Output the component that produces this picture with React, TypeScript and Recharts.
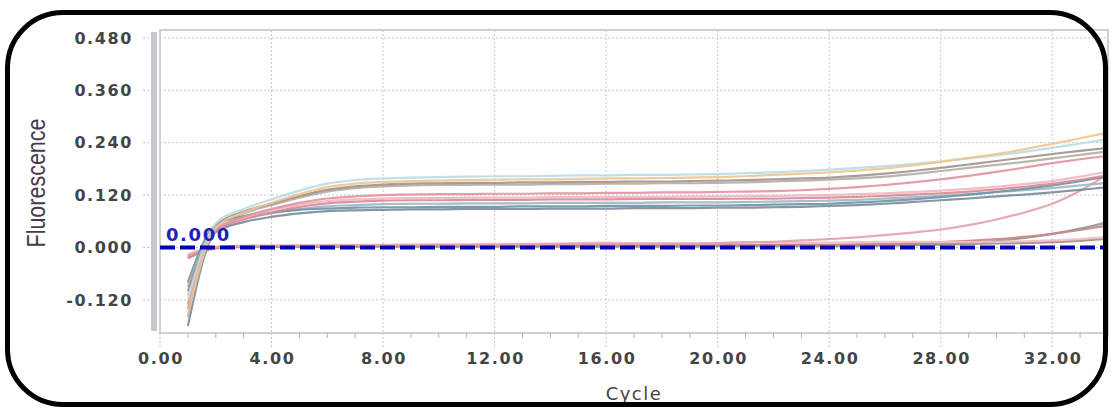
import {
  CartesianGrid,
  Line,
  LineChart,
  ReferenceArea,
  ReferenceLine,
  XAxis,
  YAxis,
} from 'recharts'

const CYCLES = [
  1, 2, 3, 4, 5, 6, 7, 8, 9, 10, 11, 12, 13, 14, 15, 16, 17, 18, 19, 20, 21, 22, 23, 24, 25, 26, 27, 28,
  29, 30, 31, 32, 33, 34,
]

const TAN = [
  -0.15, 0.045, 0.08, 0.102, 0.122, 0.138, 0.146, 0.15, 0.152, 0.153, 0.154, 0.155, 0.156, 0.156, 0.157,
  0.158, 0.158, 0.159, 0.16, 0.161, 0.163, 0.166, 0.169, 0.172, 0.176, 0.181, 0.188, 0.196, 0.205, 0.214,
  0.225, 0.237, 0.25, 0.263,
]
const LIGHT_BLUE = [
  -0.12, 0.055, 0.088, 0.11, 0.13, 0.146, 0.154, 0.158, 0.16, 0.161, 0.162, 0.163, 0.163, 0.164, 0.165,
  0.165, 0.166, 0.166, 0.167, 0.168, 0.17, 0.172, 0.175, 0.178, 0.182, 0.186, 0.191, 0.197, 0.204, 0.211,
  0.219, 0.228, 0.238, 0.248,
]
const GRAY_BROWN = [
  -0.1, 0.05, 0.082, 0.1, 0.118, 0.132, 0.14, 0.144, 0.146, 0.147, 0.148, 0.148, 0.149, 0.149, 0.15, 0.15,
  0.151, 0.151, 0.152, 0.153, 0.154, 0.156, 0.158, 0.16, 0.164, 0.169, 0.175, 0.182, 0.19, 0.198, 0.206,
  0.214, 0.221, 0.228,
]
const GRAY_BROWN_2 = [
  -0.09, 0.048, 0.078, 0.097, 0.114, 0.128, 0.136, 0.14, 0.142, 0.143, 0.143, 0.144, 0.144, 0.145, 0.145,
  0.146, 0.146, 0.147, 0.147, 0.148, 0.149, 0.151, 0.153, 0.155, 0.158, 0.162, 0.168, 0.175, 0.182, 0.189,
  0.196, 0.204, 0.212, 0.22,
]
const PINK_1 = [
  -0.13, 0.04, 0.07, 0.088, 0.102, 0.112, 0.117, 0.12, 0.121, 0.122, 0.122, 0.123, 0.123, 0.124, 0.124,
  0.125, 0.125, 0.126, 0.126, 0.127, 0.128, 0.129, 0.131, 0.134, 0.138, 0.143, 0.149, 0.156, 0.164, 0.173,
  0.183, 0.193, 0.202, 0.21,
]
const PINK_2 = [
  -0.11, 0.042, 0.068, 0.085, 0.098, 0.106, 0.11, 0.112, 0.113, 0.113, 0.114, 0.114, 0.114, 0.115, 0.115,
  0.116, 0.116, 0.116, 0.117, 0.117, 0.118, 0.118, 0.119, 0.12, 0.122, 0.124, 0.127, 0.13, 0.134, 0.139,
  0.145, 0.152, 0.162, 0.174,
]
const ROSE = [
  -0.14, 0.038, 0.064, 0.08, 0.093, 0.101, 0.105, 0.107, 0.108, 0.108, 0.109, 0.109, 0.109, 0.11, 0.11,
  0.11, 0.111, 0.111, 0.111, 0.111, 0.112, 0.112, 0.113, 0.114, 0.116, 0.118, 0.121, 0.124, 0.128, 0.133,
  0.139, 0.146, 0.155, 0.165,
]
const TEAL = [
  -0.08, 0.052, 0.072, 0.08, 0.086, 0.089, 0.091, 0.092, 0.092, 0.093, 0.093, 0.093, 0.094, 0.094, 0.094,
  0.095, 0.095, 0.095, 0.096, 0.096, 0.097, 0.098, 0.099, 0.1, 0.103, 0.106, 0.11, 0.115, 0.121, 0.127,
  0.134, 0.142, 0.152, 0.163,
]
const SLATE = [
  -0.18, 0.035, 0.058, 0.07, 0.078, 0.083, 0.085, 0.086, 0.087, 0.087, 0.088, 0.088, 0.088, 0.089, 0.089,
  0.089, 0.09, 0.09, 0.09, 0.091, 0.091, 0.092, 0.093, 0.095, 0.097, 0.1, 0.104, 0.108, 0.112, 0.117,
  0.121, 0.126, 0.132, 0.138,
]
const LIGHT_SLATE = [
  -0.16, 0.04, 0.065, 0.078, 0.088, 0.094, 0.097, 0.099, 0.1, 0.1, 0.101, 0.101, 0.101, 0.102, 0.102,
  0.102, 0.102, 0.103, 0.103, 0.103, 0.104, 0.105, 0.106, 0.107, 0.109, 0.112, 0.115, 0.118, 0.122, 0.127,
  0.131, 0.136, 0.142, 0.148,
]
const LATE_PINK = [
  -0.02, 0.0, 0.002, 0.003, 0.004, 0.004, 0.005, 0.005, 0.005, 0.006, 0.006, 0.006, 0.007, 0.007, 0.008,
  0.008, 0.008, 0.009, 0.009, 0.01, 0.011, 0.013, 0.016, 0.019, 0.023, 0.028, 0.034, 0.041, 0.051, 0.064,
  0.08, 0.1, 0.13, 0.168,
]
const LATE_SALMON = [
  -0.025, -0.002, 0.001, 0.002, 0.002, 0.003, 0.003, 0.003, 0.003, 0.003, 0.004, 0.004, 0.004, 0.004,
  0.004, 0.005, 0.005, 0.005, 0.005, 0.005, 0.005, 0.006, 0.006, 0.006, 0.007, 0.008, 0.01, 0.012, 0.015,
  0.019, 0.024, 0.031, 0.04, 0.05,
]
const LATE_GRAY = [
  -0.018, 0.0, 0.002, 0.002, 0.002, 0.002, 0.002, 0.002, 0.002, 0.002, 0.002, 0.002, 0.002, 0.002, 0.002,
  0.002, 0.002, 0.002, 0.002, 0.003, 0.003, 0.003, 0.003, 0.003, 0.003, 0.004, 0.005, 0.007, 0.01, 0.015,
  0.022, 0.031, 0.043, 0.058,
]
const FLAT_BROWN = [
  -0.022, 0.0, 0.002, 0.003, 0.003, 0.003, 0.003, 0.004, 0.004, 0.004, 0.004, 0.004, 0.004, 0.005, 0.005,
  0.005, 0.005, 0.005, 0.005, 0.005, 0.005, 0.006, 0.006, 0.006, 0.006, 0.006, 0.007, 0.007, 0.008, 0.009,
  0.01, 0.012, 0.015, 0.02,
]
const FLAT_PINK = [
  -0.015, 0.002, 0.004, 0.005, 0.005, 0.006, 0.006, 0.006, 0.007, 0.007, 0.007, 0.008, 0.008, 0.009, 0.01,
  0.011, 0.01, 0.009, 0.009, 0.01, 0.012, 0.012, 0.011, 0.011, 0.012, 0.013, 0.013, 0.012, 0.012, 0.013,
  0.014, 0.016, 0.019, 0.024,
]

const SERIES = [
  { key: 'flatBrown', values: FLAT_BROWN, color: '#a58a7a' },
  { key: 'lateGray', values: LATE_GRAY, color: '#8d9898' },
  { key: 'lateSalmon', values: LATE_SALMON, color: '#cf8484' },
  { key: 'flatPink', values: FLAT_PINK, color: '#f1bcc5' },
  { key: 'latePink', values: LATE_PINK, color: '#e4a0aa' },
  { key: 'slate', values: SLATE, color: '#7a8a9a' },
  { key: 'lightSlate', values: LIGHT_SLATE, color: '#9cb6c6' },
  { key: 'teal', values: TEAL, color: '#6b95a3' },
  { key: 'rose', values: ROSE, color: '#d88a94' },
  { key: 'pink2', values: PINK_2, color: '#f0b6c0' },
  { key: 'pink1', values: PINK_1, color: '#e2909f' },
  { key: 'grayBrown2', values: GRAY_BROWN_2, color: '#b5aca4' },
  { key: 'grayBrown', values: GRAY_BROWN, color: '#9f958d' },
  { key: 'lightBlue', values: LIGHT_BLUE, color: '#b8dbe8' },
  { key: 'tan', values: TAN, color: '#f0c48c' },
]

const X_TICKS = [0, ...CYCLES]
const X_GRID = [4, 8, 12, 16, 20, 24, 28, 32]
const Y_TICKS = [-0.12, 0, 0.12, 0.24, 0.36, 0.48]
const Y_DOMAIN: [number, number] = [-0.196, 0.498]
const THRESHOLD = 0

const data = CYCLES.map((cycle, i) => {
  const row: Record<string, number> = { cycle }
  SERIES.forEach((s) => {
    row[s.key] = s.values[i]
  })
  return row
})

const tickFont = {
  fontFamily: '"DejaVu Sans", Verdana, sans-serif',
  fontSize: 16,
  fontWeight: 700,
  letterSpacing: 1.6,
}

function XTick(props: any) {
  const { x, y, payload } = props
  const v = payload.value as number
  const major = v % 4 === 0
  return (
    <g>
      {major ? (
        <line x1={x} x2={x} y1={y} y2={y + 14} stroke="#c4c4c4" strokeDasharray="2 2" />
      ) : (
        <line x1={x} x2={x} y1={y} y2={y + 5} stroke="#b4b4b4" />
      )}
      {major && v <= 32 && (
        <text x={x + 1} y={y + 31} textAnchor="middle" fill="#444" style={tickFont}>
          {v.toFixed(2)}
        </text>
      )}
    </g>
  )
}

function YTick(props: any) {
  const { x, y, payload } = props
  const v = payload.value as number
  return (
    <g>
      <line x1={x - 17} x2={x - 8} y1={y} y2={y} stroke="#c4c4c4" strokeDasharray="2 2" />
      <text x={x - 27} y={y} dy="0.36em" textAnchor="end" fill="#444" style={tickFont}>
        {v.toFixed(3)}
      </text>
    </g>
  )
}

function FluorLabel() {
  return (
    <text
      x={36}
      y={183}
      transform="rotate(-90 36 183)"
      textAnchor="middle"
      dominantBaseline="central"
      fill="#4a3848"
      textLength={129}
      lengthAdjust="spacingAndGlyphs"
      style={{ fontFamily: '"Liberation Sans", Arial, sans-serif', fontSize: 25 }}
    >
      Fluorescence
    </text>
  )
}

export default function App() {
  return (
    <div style={{ position: 'absolute', left: 0, top: 0, width: 1112, height: 408, background: '#fff' }}>
      <LineChart width={1112} height={408} data={data} margin={{ top: 30, right: 4, left: 0, bottom: 0 }}>
        <CartesianGrid
          stroke="#c8c8c8"
          strokeDasharray="2 2"
          verticalValues={X_GRID}
          horizontalValues={Y_TICKS}
        />
        <ReferenceArea
          x1={0}
          x2={34}
          y1={Y_DOMAIN[0]}
          y2={Y_DOMAIN[1]}
          fill="none"
          stroke="#cdd0d4"
          strokeWidth={2}
        />
        <XAxis
          type="number"
          dataKey="cycle"
          domain={[0, 34]}
          ticks={X_TICKS}
          interval={0}
          height={75}
          axisLine={false}
          tickLine={false}
          tickSize={0}
          tickMargin={0}
          tick={<XTick />}
          label={{
            value: 'Cycle',
            position: 'insideBottom',
            offset: 8,
            fill: '#444',
            style: { ...tickFont, fontSize: 18, fontWeight: 400, letterSpacing: 1.5 },
          }}
        />
        <YAxis
          type="number"
          domain={Y_DOMAIN}
          ticks={Y_TICKS}
          interval={0}
          width={160}
          axisLine={false}
          tickLine={false}
          tickSize={0}
          tickMargin={0}
          tick={<YTick />}
          label={{ content: FluorLabel }}
        />
        {SERIES.map((s) => (
          <Line
            key={s.key}
            type="monotone"
            dataKey={s.key}
            stroke={s.color}
            strokeWidth={2.2}
            strokeOpacity={0.9}
            dot={false}
            isAnimationActive={false}
          />
        ))}
        <ReferenceLine
          y={THRESHOLD}
          stroke="#0000b0"
          strokeWidth={4}
          strokeDasharray="15 5"
          label={{
            value: '0.000',
            position: 'insideBottomLeft',
            offset: 6,
            fill: '#2222b4',
            style: { ...tickFont, fontSize: 18, letterSpacing: 1.6 },
          }}
        />
      </LineChart>
      <div
        style={{
          position: 'absolute',
          left: 151,
          top: 32,
          width: 6,
          height: 299,
          background: '#c5c8cc',
        }}
      />
      <div
        style={{
          position: 'absolute',
          left: 5,
          top: 10,
          width: 1103,
          height: 397,
          boxSizing: 'border-box',
          border: '5px solid #000',
          borderRadius: 58,
          pointerEvents: 'none',
        }}
      />
    </div>
  )
}
